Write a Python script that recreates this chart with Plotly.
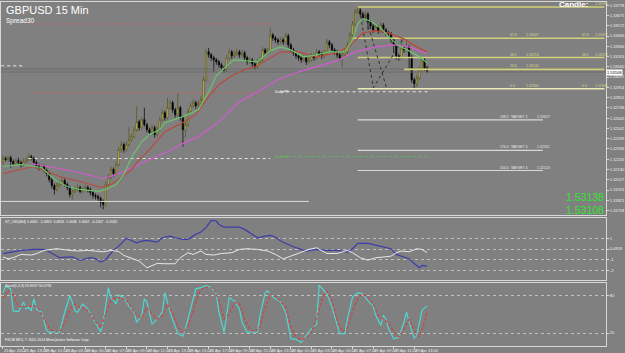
import plotly.graph_objects as go

# ---------------- data ----------------
opens = [1.5220,1.5224,1.5223,1.5225,1.5221,1.5219,1.5222,1.5220,1.5218,1.5221,
1.5223,1.5226,1.5224,1.5220,1.5217,1.5215,1.5216,1.5212,1.5209,1.5203,
1.5197,1.5193,1.5197,1.5199,1.5202,1.5198,1.5195,1.5188,1.5191,1.5193,
1.5195,1.5191,1.5193,1.5195,1.5193,1.5190,1.5187,1.5186,1.5184,1.5180,
1.5178,1.5198,1.5205,1.5213,1.5209,1.5218,1.5233,1.5238,1.5233,1.5238,
1.5243,1.5246,1.5253,1.5261,1.5255,1.5263,1.5258,1.5253,1.5250,1.5255,
1.5248,1.5253,1.5263,1.5270,1.5265,1.5275,1.5280,1.5273,1.5268,1.5275,
1.5265,1.5253,1.5258,1.5271,1.5277,1.5280,1.5277,1.5279,1.5283,1.5303,
1.5331,1.5328,1.5325,1.5323,1.5321,1.5318,1.5315,1.5313,1.5325,1.5331,
1.5327,1.5329,1.5331,1.5328,1.5330,1.5325,1.5321,1.5323,1.5319,1.5316,
1.5321,1.5323,1.5333,1.5330,1.5332,1.5348,1.5345,1.5343,1.5341,1.5343,
1.5341,1.5347,1.5338,1.5333,1.5330,1.5327,1.5325,1.5323,1.5325,1.5321,
1.5323,1.5327,1.5325,1.5331,1.5329,1.5327,1.5330,1.5341,1.5338,1.5333,
1.5331,1.5328,1.5325,1.5328,1.5331,1.5338,1.5348,1.5359,1.5371,1.5373,
1.5369,1.5365,1.5369,1.5361,1.5357,1.5353,1.5356,1.5352,1.5358,1.5353,
1.5350,1.5349,1.5343,1.5338,1.5327,1.5325,1.5335,1.5333,1.5336,1.5326,
1.5303,1.5299,1.5305,1.5313,1.5323,1.5315]
closes = [1.5224,1.5223,1.5225,1.5221,1.5219,1.5222,1.5220,1.5218,1.5221,1.5223,
1.5226,1.5224,1.5220,1.5217,1.5215,1.5216,1.5212,1.5209,1.5203,1.5197,
1.5193,1.5197,1.5199,1.5202,1.5198,1.5195,1.5188,1.5191,1.5193,1.5195,
1.5191,1.5193,1.5195,1.5193,1.5190,1.5187,1.5186,1.5184,1.5180,1.5178,
1.5198,1.5205,1.5213,1.5209,1.5218,1.5233,1.5238,1.5233,1.5238,1.5243,
1.5246,1.5253,1.5261,1.5255,1.5263,1.5258,1.5253,1.5250,1.5255,1.5248,
1.5253,1.5263,1.5270,1.5265,1.5275,1.5280,1.5273,1.5268,1.5275,1.5265,
1.5253,1.5258,1.5271,1.5277,1.5280,1.5277,1.5279,1.5283,1.5303,1.5331,
1.5328,1.5325,1.5323,1.5321,1.5318,1.5315,1.5313,1.5325,1.5331,1.5327,
1.5329,1.5331,1.5328,1.5330,1.5325,1.5321,1.5323,1.5319,1.5316,1.5321,
1.5323,1.5333,1.5330,1.5332,1.5348,1.5345,1.5343,1.5341,1.5343,1.5341,
1.5347,1.5338,1.5333,1.5330,1.5327,1.5325,1.5323,1.5325,1.5321,1.5323,
1.5327,1.5325,1.5331,1.5329,1.5327,1.5330,1.5341,1.5338,1.5333,1.5331,
1.5328,1.5325,1.5328,1.5331,1.5338,1.5348,1.5359,1.5371,1.5373,1.5369,
1.5365,1.5369,1.5361,1.5357,1.5353,1.5356,1.5352,1.5358,1.5353,1.5350,
1.5349,1.5343,1.5338,1.5327,1.5325,1.5335,1.5333,1.5336,1.5326,1.5303,
1.5299,1.5305,1.5313,1.5323,1.5315,1.5311]
highs = [1.5227,1.5226,1.5227,1.5227,1.5223,1.5224,1.5225,1.5222,1.5224,1.5225,
1.5229,1.5228,1.5226,1.5222,1.5219,1.5218,1.5218,1.5214,1.5211,1.5205,
1.5199,1.5200,1.5202,1.5205,1.5204,1.5200,1.5197,1.5193,1.5196,1.5198,
1.5197,1.5195,1.5198,1.5197,1.5195,1.5192,1.5189,1.5188,1.5186,1.5183,
1.5201,1.5208,1.5216,1.5215,1.5221,1.5236,1.5241,1.5240,1.5241,1.5256,
1.5249,1.5256,1.5276,1.5263,1.5266,1.5275,1.5260,1.5255,1.5258,1.5257,
1.5256,1.5266,1.5273,1.5272,1.5285,1.5283,1.5282,1.5275,1.5290,1.5277,
1.5267,1.5261,1.5274,1.5280,1.5283,1.5282,1.5282,1.5286,1.5306,1.5334,
1.5335,1.5330,1.5327,1.5325,1.5323,1.5320,1.5317,1.5328,1.5334,1.5333,
1.5332,1.5334,1.5333,1.5333,1.5332,1.5327,1.5326,1.5325,1.5321,1.5324,
1.5326,1.5336,1.5335,1.5335,1.5355,1.5350,1.5347,1.5345,1.5346,1.5345,
1.5350,1.5349,1.5340,1.5335,1.5332,1.5329,1.5327,1.5328,1.5327,1.5326,
1.5330,1.5329,1.5334,1.5333,1.5331,1.5333,1.5344,1.5343,1.5340,1.5335,
1.5333,1.5330,1.5331,1.5334,1.5341,1.5351,1.5362,1.5374,1.5376,1.5375,
1.5371,1.5372,1.5371,1.5363,1.5359,1.5359,1.5358,1.5361,1.5360,1.5355,
1.5352,1.5351,1.5345,1.5340,1.5329,1.5345,1.5337,1.5345,1.5338,1.5328,
1.5305,1.5308,1.5316,1.5326,1.5325,1.5317]
lows = [1.5218,1.5221,1.5221,1.5215,1.5217,1.5217,1.5218,1.5215,1.5216,1.5219,
1.5221,1.5222,1.5218,1.5214,1.5212,1.5213,1.5210,1.5206,1.5200,1.5194,
1.5188,1.5191,1.5195,1.5197,1.5196,1.5192,1.5185,1.5183,1.5189,1.5191,
1.5189,1.5189,1.5191,1.5190,1.5187,1.5184,1.5183,1.5181,1.5175,1.5173,
1.5176,1.5196,1.5203,1.5206,1.5207,1.5216,1.5230,1.5230,1.5231,1.5236,
1.5241,1.5244,1.5251,1.5252,1.5253,1.5256,1.5250,1.5247,1.5248,1.5245,
1.5246,1.5251,1.5261,1.5262,1.5263,1.5273,1.5270,1.5265,1.5266,1.5262,
1.5236,1.5245,1.5256,1.5269,1.5275,1.5274,1.5275,1.5277,1.5281,1.5301,
1.5325,1.5322,1.5311,1.5318,1.5315,1.5312,1.5310,1.5311,1.5323,1.5324,
1.5325,1.5327,1.5325,1.5326,1.5322,1.5318,1.5319,1.5316,1.5313,1.5314,
1.5319,1.5321,1.5327,1.5328,1.5330,1.5342,1.5340,1.5338,1.5339,1.5338,
1.5339,1.5335,1.5330,1.5327,1.5324,1.5322,1.5320,1.5321,1.5318,1.5319,
1.5321,1.5322,1.5323,1.5326,1.5324,1.5325,1.5328,1.5335,1.5330,1.5328,
1.5325,1.5322,1.5315,1.5326,1.5329,1.5336,1.5346,1.5357,1.5369,1.5366,
1.5362,1.5363,1.5353,1.5354,1.5350,1.5351,1.5349,1.5350,1.5350,1.5347,
1.5346,1.5340,1.5330,1.5323,1.5322,1.5323,1.5330,1.5331,1.5313,1.5300,
1.5294,1.5296,1.5303,1.5311,1.5312,1.5310]
bar_index = list(range(len(closes)))

tick_bars = [0,8,16,24,32,40,48,56,64,72,80,88,96,104,112,120,128,136,144,152,160]
tick_labels = ["25 Apr 2014","25 Apr 23:00","28 Apr 01:00","28 Apr 03:00","28 Apr 05:00",
               "28 Apr 07:00","28 Apr 09:00","28 Apr 11:00","28 Apr 13:00","28 Apr 15:00",
               "28 Apr 17:00","28 Apr 19:00","28 Apr 21:00","28 Apr 23:00","29 Apr 01:00",
               "29 Apr 03:00","29 Apr 05:00","29 Apr 07:00","29 Apr 09:00","29 Apr 11:00",
               "29 Apr 13:00"]

# moving averages (sampled points)
ma_fast_bars = [0,7,15,20,25,30,37,40,44,47,50,54,57,61,63,70,76,80,83,87,90,95,99,104,108,112,117,122,127,133,136,138,140,143,147,150,154,158,162,165]
ma_fast = [1.5216,1.5218,1.5215,1.5203,1.5196,1.5193,1.5191,1.5193,1.5198,1.5208,1.5225,1.5241,1.5248,1.5253,1.5260,1.5266,1.5273,1.5291,1.5307,1.5317,1.5323,1.5322,1.5321,1.5332,1.5336,1.5333,1.5326,1.5328,1.5331,1.5331,1.5343,1.5359,1.5364,1.5362,1.5355,1.5346,1.5337,1.5332,1.5326,1.5320]
ma_mid_bars = [0,12,22,30,38,42,45,50,53,57,63,70,75,80,84,89,94,99,108,115,122,130,135,140,145,150,156,161,165]
ma_mid = [1.5209,1.5216,1.5206,1.5201,1.5195,1.5198,1.5203,1.5213,1.5223,1.5233,1.5251,1.5260,1.5268,1.5286,1.5298,1.5307,1.5313,1.5317,1.5331,1.5331,1.5326,1.5330,1.5337,1.5350,1.5352,1.5350,1.5344,1.5336,1.5331]
ma_slow_bars = [11,18,26,34,39,43,49,57,65,70,76,84,92,99,107,115,122,130,137,145,152,158,163,165]
ma_slow = [1.5219,1.5216,1.5212,1.5207,1.5204,1.5207,1.5213,1.5223,1.5232,1.5239,1.5246,1.5261,1.5281,1.5291,1.5303,1.5311,1.5316,1.5322,1.5331,1.5336,1.5338,1.5336,1.5331,1.5330]

# fibonacci levels
fib_prices = [1.5376, 1.53447, 1.53253, 1.53134, 1.5294]
fib_start = [138, 136, 138, 156, 138]
fib_names = ["100.0", "61.8", "38.2", "23.6", "0.0"]
fib_end = 234
target_prices = [1.52627, 1.52321, 1.52120]
target_names = ["138.2  TARGET 2", "176.4  TARGET 3", "200.0  TARGET 4"]
target_start, target_end = 138, 210

# pivot / other horizontal levels: (price, start bar, end bar)
red_dotted = [(1.5359, 10, 105), (1.5290, 11, 103)]
white_dotted = [(1.5224, 10, 104), (1.5317, -0.7, 8.5), (1.5291, 108, 165.4)]
green_dotted = [(1.5226, 108, 165.4)]
white_solid = [(1.5181, -0.7, 119)]
ask_price, bid_price = 1.53138, 1.53108

# zigzag pattern
zz1_bars, zz1_prices = [138.7, 144.1, 155.6], [1.5373, 1.5295, 1.5344]
zz2_bars, zz2_prices = [140.9, 149.2], [1.5368, 1.5295]

# indicator 1
blue_bars = [0,3,7,12,16,18,22,25,27,30,34,36,38,40,43,45,48,50,52,54,56,60,62,65,67,70,72,75,77,79,81,83,84,86,89,92,94,97,99,102,104,106,108,111,113,116,118,122,126,130,134,136,138,142,144,147,149,151,153,157,158,160,162,163,165]
blue_vals = [-0.44,-0.29,-0.13,-0.04,-0.04,-0.26,-0.82,-0.76,-0.73,-1.08,-0.82,-0.89,-1.24,-0.98,-0.13,0.27,1.0,0.81,0.59,0.75,0.81,0.65,1.06,1.22,1.06,0.91,0.91,1.38,1.60,2.01,2.70,2.64,2.32,2.07,2.10,2.07,1.85,1.38,1.06,1.22,1.28,1.13,0.75,0.43,0.21,-0.04,-0.19,-0.04,-0.13,-0.13,-0.29,0.03,0.53,0.53,0.43,0.21,0.12,0.03,-0.51,-0.82,-0.92,-1.36,-1.77,-1.55,-1.61]
white_bars = [0,2,4,7,11,13,16,21,25,29,33,36,39,42,45,47,50,53,56,60,63,67,69,72,74,77,79,82,85,89,92,95,99,103,106,109,112,116,119,122,126,130,134,136,139,142,145,148,151,153,155,158,161,163,165]
white_vals = [-0.76,-0.92,-0.82,-0.51,-0.57,-0.44,-0.13,0.03,-0.10,-0.19,-0.13,-0.19,-0.26,-0.13,-0.23,-0.60,-0.89,-1.14,-1.77,-1.36,-1.39,-1.39,-0.82,-0.35,-0.51,-0.19,-0.51,-0.57,-0.42,-0.35,-0.04,0.03,-0.04,-0.19,-0.51,-0.92,-0.67,-0.29,-0.04,0.12,-0.42,-0.42,-0.13,-0.35,-0.82,-1.05,-0.82,-0.76,-0.67,-0.35,-0.19,-0.26,0.03,-0.04,-0.35]

# stochastic
k_bars = [0,1,2,3,4,6,7,8,9,10,11,12,13,15,17,18,20,22,24,26,27,28,29,31,33,36,38,39,41,42,44,45,47,49,51,52,54,55,56,58,60,62,63,65,67,68,70,71,74,75,77,79,81,83,84,86,88,90,92,93,95,97,99,100,102,103,105,108,110,112,114,116,118,120,122,123,126,128,131,133,134,136,138,140,142,144,145,147,148,149,150,152,154,156,157,158,160,161,163,165]
k_vals = [84,94,92,90,55,54,61,69,58,61,55,74,58,53,24,21,22,21,53,79,69,55,53,66,58,37,22,37,92,76,66,80,76,63,53,37,48,74,69,34,42,53,84,53,32,19,15,27,74,90,92,95,92,82,53,21,76,71,58,37,21,22,21,48,84,87,77,69,53,11,10,5,16,27,34,96,82,61,19,19,42,77,84,82,71,63,48,32,48,42,27,11,13,37,53,37,12,16,56,63]
d_bars = [0,2,4,6,8,10,12,14,16,18,20,22,24,26,28,30,32,34,36,38,40,42,44,46,48,50,52,54,56,58,60,62,64,66,68,70,72,74,76,78,80,82,84,86,88,90,92,94,96,98,100,102,104,106,108,110,112,114,116,118,120,122,124,126,128,130,132,134,136,138,140,142,144,146,148,150,152,154,156,158,160,162,164,165]
d_vals = [75,88,80,62,62,62,64,58,42,28,22,22,35,58,66,60,60,50,38,28,50,72,76,76,72,60,48,44,60,50,42,48,66,50,30,20,30,55,82,92,93,90,72,42,50,68,66,42,25,22,30,60,82,78,70,60,30,14,9,12,22,42,72,86,72,40,22,28,55,76,82,76,66,48,42,36,22,14,26,42,24,14,38,52]

# ---------------- layout helpers ----------------
W, H = 625, 353
ML, MR, MT, MB = 0, 13, 2, 6
PW, PH = W - ML - MR, H - MT - MB
BG = "#808080"
FONT = "Liberation Sans, Arial, sans-serif"
XR = [-0.77, 234.6]


def yp(py):
    return (H - MB - py) / PH


def xp(px):
    return (px - ML) / PW


fig = go.Figure()


def hline(price, x0, x1, color, width=1, dash="solid", xa="x", ya="y"):
    fig.add_trace(go.Scatter(x=[x0, x1], y=[price, price], mode="lines",
                             line=dict(color=color, width=width, dash=dash),
                             xaxis=xa, yaxis=ya, hoverinfo="skip"))


hline(ask_price, XR[0], XR[1], "#6a6a6a", 1)
hline(bid_price, XR[0], XR[1], "#6a6a6a", 1)
for p, a, b in red_dotted:
    hline(p, a, b, "#c86464", 1, "dot")
for p, a, b in white_dotted:
    hline(p, a, b, "#e6e6e6", 1, "dot")
for p, a, b in green_dotted:
    hline(p, a, b, "#58b858", 1, "dot")
for p, a, b in white_solid:
    hline(p, a, b, "#dcdcdc", 1)
for p, s in zip(fib_prices, fib_start):
    col = "#ecebb8" if p == fib_prices[-1] else "#d2d07a"
    hline(p, s, fib_end, col, 1.6)
for p in target_prices:
    hline(p, target_start, target_end, "#d8d8d8", 1.2)

# zigzag
fig.add_trace(go.Scatter(x=zz1_bars, y=zz1_prices, mode="lines",
                         line=dict(color="#303030", width=1, dash="dot"), hoverinfo="skip"))
fig.add_trace(go.Scatter(x=zz2_bars, y=zz2_prices, mode="lines",
                         line=dict(color="#303030", width=1, dash="dot"), hoverinfo="skip"))

# moving averages
fig.add_trace(go.Scatter(x=ma_slow_bars, y=ma_slow, mode="lines",
                         line=dict(color="#d25ad2", width=1.2), hoverinfo="skip"))
fig.add_trace(go.Scatter(x=ma_mid_bars, y=ma_mid, mode="lines",
                         line=dict(color="#b84a3c", width=1.2), hoverinfo="skip"))
fig.add_trace(go.Scatter(x=ma_fast_bars, y=ma_fast, mode="lines",
                         line=dict(color="#6cc46c", width=1.2), hoverinfo="skip"))

# candles
fig.add_trace(go.Candlestick(
    x=bar_index, open=opens, high=highs, low=lows, close=closes,
    increasing=dict(line=dict(color="#55531f", width=0.7), fillcolor="#eee866"),
    decreasing=dict(line=dict(color="#000000", width=0.7), fillcolor="#000000"),
    whiskerwidth=0, hoverinfo="skip", xaxis="x", yaxis="y"))

# indicator 1
fig.add_trace(go.Scatter(x=blue_bars, y=blue_vals, mode="lines", xaxis="x2", yaxis="y2",
                         line=dict(color="#3c3ca8", width=1.2), hoverinfo="skip"))
fig.add_trace(go.Scatter(x=white_bars, y=white_vals, mode="lines", xaxis="x2", yaxis="y2",
                         line=dict(color="#e8e8e8", width=1), hoverinfo="skip"))

# stochastic
fig.add_trace(go.Scatter(x=k_bars, y=k_vals, mode="lines", xaxis="x3", yaxis="y3",
                         line=dict(color="#4fd6d0", width=1.2), hoverinfo="skip"))
fig.add_trace(go.Scatter(x=d_bars, y=d_vals, mode="lines", xaxis="x3", yaxis="y3",
                         line=dict(color="#d04040", width=1.2, dash="3px,2px"), hoverinfo="skip"))

axis_common = dict(showgrid=False, zeroline=False, showline=True, mirror=True,
                   linecolor="#d8d8d8", linewidth=1, fixedrange=True)
ytick = dict(ticks="outside", ticklen=2, tickcolor="#d8d8d8", tickfont=dict(size=4, color="#f0f0f0"))

fig.update_layout(
    width=W, height=H, margin=dict(l=ML, r=MR, t=MT, b=MB),
    paper_bgcolor=BG, plot_bgcolor=BG, showlegend=False,
    font=dict(family=FONT, color="#ffffff", size=4),
    xaxis=dict(domain=[0, 1], range=XR, anchor="y", showticklabels=False,
               rangeslider=dict(visible=False), **axis_common),
    xaxis2=dict(domain=[0, 1], range=XR, anchor="y2", showticklabels=False, **axis_common),
    xaxis3=dict(domain=[0, 1], range=XR, anchor="y3", tickmode="array",
                tickvals=tick_bars, ticktext=tick_labels, ticks="outside", ticklen=2,
                tickangle=0, tickcolor="#d8d8d8", tickfont=dict(size=4, color="#f0f0f0"),
                ticklabelposition="outside right", **axis_common),
    yaxis=dict(domain=[yp(216), 1], range=[1.5167, 1.5381], side="right",
               tickmode="linear", tick0=1.53160, dtick=0.00103, tickformat=".5f",
               **ytick, **axis_common),
    yaxis2=dict(domain=[yp(281), yp(219)], range=[-2.94, 2.89], side="right",
                tickmode="array", tickvals=[1, 0, -1, -2], ticktext=["1", "0.0318", "-1", "-2"],
                **ytick, **{**axis_common, "showgrid": True},
                gridcolor="#c0c0c0", griddash="dot", gridwidth=1),
    yaxis3=dict(domain=[0, yp(284)], range=[-0.54, 98.96], side="right",
                tickmode="array", tickvals=[80, 20], ticktext=["80", "20"],
                **ytick, **{**axis_common, "showgrid": True},
                gridcolor="#c0c0c0", griddash="dot", gridwidth=1),
)

ann = []


def text_px(px, py, txt, size=4, color="#ffffff", xanchor="left", yanchor="middle", bold=False, **kw):
    ann.append(dict(x=xp(px), y=yp(py), xref="paper", yref="paper",
                    text=(f"<b>{txt}</b>" if bold else txt),
                    showarrow=False, xanchor=xanchor, yanchor=yanchor,
                    font=dict(size=size, color=color, family=FONT), **kw))


def text_data(bx, price, txt, size=3.5, color="#d8d890", xanchor="left", yanchor="bottom"):
    ann.append(dict(x=bx, y=price, xref="x", yref="y", text=txt, showarrow=False,
                    xanchor=xanchor, yanchor=yanchor, font=dict(size=size, color=color, family=FONT),
                    borderpad=0))


text_px(3, 10, "GBPUSD 15 Min", size=11)
text_px(3, 21, "Spread30", size=6.5)
text_px(562, 5, "Candle:", size=8, bold=True)
text_px(611, 197.5, "1.53138", size=10.5, color="#2fe62f", xanchor="right", borderpad=0)
text_px(611, 210.5, "1.53108", size=10.5, color="#2fe62f", xanchor="right", borderpad=0)
text_px(2, 223, "GT_USD(H4) 1.0062  -1.0813  0.4826  1.0036  1.0062  -0.2207  -0.2045", size=3.5)
text_px(2, 287, "Stoch(5,3,3) 59.8707 53.0793", size=3.5)
text_px(2, 341, "FXCM MT4, \u00a9 2001-2014 MetaQuotes Software Corp.", size=3.5)
text_px(275, 92, "Daily PP", size=3.5)
text_px(275, 157, "Daily S1", size=3.5, color="#58c858")

# fib labels
for p, nm in zip(fib_prices[1:], fib_names[1:]):
    text_data(197, p, nm)
    text_data(203, p, f"{p:.5f}")
for p, nm in zip([fib_prices[0], fib_prices[1], fib_prices[2], fib_prices[4]],
                 [fib_names[0], fib_names[1], fib_names[2], fib_names[4]]):
    if nm != "100.0":
        text_data(225, p, nm)
    text_data(230, p, f"{p:.5f}")
for p, nm in zip(target_prices, target_names):
    text_data(193, p, nm, color="#e8e8e8")
    text_data(207.5, p, f"{p:.5f}", color="#e8e8e8")

# current price box on the right scale
ann.append(dict(x=1.0, y=bid_price, xref="paper", yref="y", text="1.53108", showarrow=False,
                xanchor="left", yanchor="middle", bgcolor="#ffffff",
                font=dict(size=4, color="#000000", family=FONT), borderpad=0))

fig.update_layout(annotations=ann)
fig.write_html("out.html")
